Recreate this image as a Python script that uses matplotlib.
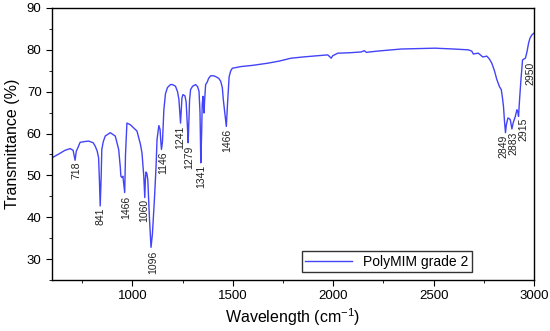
import numpy as np
import matplotlib
matplotlib.use('Agg')
import matplotlib.pyplot as plt

# ==============================
# data
# ==============================
wavenumber = [
    600, 630, 665, 690, 705, 715, 721, 727, 740, 765, 782, 805, 815, 825, 832,
    836, 840, 845, 848, 855, 865, 890, 915, 932, 940, 943, 948, 953, 962, 966,
    973, 990, 1023, 1040, 1048, 1057, 1062, 1065, 1068, 1072, 1077, 1085, 1093,
    1100, 1110, 1118, 1123, 1132, 1138, 1142, 1145, 1150, 1157, 1165, 1175,
    1190, 1200, 1215, 1225, 1232, 1238, 1240, 1243, 1247, 1252, 1262, 1268,
    1270, 1276, 1278, 1281, 1285, 1290, 1300, 1315, 1325, 1332, 1337, 1341,
    1345, 1348, 1352, 1355, 1357, 1360, 1365, 1373, 1380, 1390, 1405, 1415,
    1430, 1440, 1448, 1453, 1460, 1468, 1475, 1482, 1490, 1498, 1520, 1540,
    1600, 1673, 1730, 1790, 1850, 1900, 1950, 1973, 1982, 1990, 1998, 2023,
    2080, 2140, 2155, 2165, 2220, 2340, 2420, 2507, 2600, 2673, 2690, 2698,
    2708, 2723, 2738, 2745, 2755, 2765, 2778, 2790, 2803, 2815, 2828, 2837,
    2843, 2848, 2853, 2858, 2862, 2870, 2876, 2882, 2886, 2890, 2896, 2907,
    2915, 2920, 2923, 2928, 2935, 2943, 2950, 2957, 2965, 2973, 2980, 2990,
    3000,
]
transmittance = [
    54.2, 55.0, 56.0, 56.4, 56.0, 53.6, 55.8, 56.4, 57.9, 58.1, 58.2, 57.8,
    57.0, 55.8, 54.2, 49.0, 42.7, 50.0, 56.2, 58.0, 59.4, 60.2, 59.4, 56.2,
    52.0, 49.8, 49.5, 49.8, 45.9, 55.0, 62.5, 62.1, 60.6, 57.5, 55.4, 49.8,
    44.7, 49.0, 50.8, 50.5, 49.0, 40.0, 32.8, 36.0, 44.3, 52.0, 58.6, 61.9,
    61.0, 58.0, 56.2, 58.0, 65.7, 69.5, 71.0, 71.7, 71.7, 71.3, 70.0, 68.1,
    64.0, 62.5, 65.0, 68.5, 69.3, 69.0, 67.5, 65.7, 60.0, 57.8, 62.0, 68.0,
    70.5, 71.3, 71.7, 71.2, 70.1, 65.0, 53.0, 60.0, 67.0, 68.9, 66.0, 64.9,
    68.0, 71.7, 72.3, 73.2, 73.8, 73.8, 73.6, 73.2, 72.5, 71.0, 68.1, 65.0,
    61.7, 68.0, 73.6, 75.0, 75.6, 75.8, 76.0, 76.3, 76.8, 77.3, 78.0, 78.3,
    78.5, 78.7, 78.8, 78.4, 78.0, 78.6, 79.2, 79.3, 79.5, 79.8, 79.4, 79.7,
    80.2, 80.3, 80.4, 80.2, 80.0, 79.7, 79.0, 79.1, 79.2, 78.6, 78.3, 78.4,
    78.5, 77.8, 76.8, 75.0, 72.9, 71.2, 70.5, 68.5, 66.5, 63.0, 60.2, 62.0,
    63.7, 63.6, 63.3, 62.2, 61.1, 62.5, 64.1, 65.7, 65.0, 64.1, 68.0, 72.9,
    77.6, 77.8, 78.0, 79.5, 81.6, 82.8, 83.6, 84.0,
]

# peak labels (text as printed on the original figure)
peak_labels = ['718', '841', '1466', '1060', '1096', '1146', '1241', '1279',
               '1341', '1466', '2849', '2883', '2915', '2950']
peak_x = [723, 840, 970, 1057, 1103, 1153, 1240, 1285, 1343, 1470,
          2848, 2898, 2948, 2980]
peak_y = [53.4, 42.3, 45.1, 44.5, 32.0, 55.8, 61.9, 57.0, 52.6, 61.1,
          59.8, 60.5, 63.8, 77.1]

# ==============================
# style
# ==============================
plt.rcParams.update({
    "font.family": ["Liberation Sans", "DejaVu Sans"],
    "mathtext.fontset": "custom",
    "mathtext.rm": "Liberation Sans",
    "mathtext.it": "Liberation Sans:italic",
    "font.size": 9,
    "axes.linewidth": 1.0,
    "xtick.direction": "out",
    "ytick.direction": "out",
    "xtick.major.size": 4,
    "ytick.major.size": 4,
    "xtick.minor.size": 2.5,
    "ytick.minor.size": 2.5,
})

fig = plt.figure(figsize=(5.5, 3.31), dpi=100)
ax = fig.add_axes([52 / 550, 1 - 280 / 331, 482 / 550, 272 / 331])

ax.plot(wavenumber, transmittance, color='#4343f7', linewidth=1.0,
        label='PolyMIM grade 2')

for lab, px, py in zip(peak_labels, peak_x, peak_y):
    ax.text(px, py, lab, rotation=90, ha='center', va='top', fontsize=7.5,
            color='#222222')

ax.set_xlim(600, 3000)
ax.set_ylim(25, 90)
ax.set_xticks([1000, 1500, 2000, 2500, 3000])
ax.set_xticks(np.arange(750, 3000, 500), minor=True)
ax.set_yticks([30, 40, 50, 60, 70, 80, 90])
ax.set_yticks(np.arange(25, 90, 10), minor=True)
ax.tick_params(axis='both', which='major', labelsize=9.5)

ax.set_xlabel(r'Wavelength (cm$^{\mathrm{-1}}$)', fontsize=11.5, labelpad=3)
ax.set_ylabel('Transmittance (%)', fontsize=11.5, labelpad=5)

leg = ax.legend(loc='center', bbox_to_anchor=(0.695, 0.068), fontsize=10,
                fancybox=False, edgecolor='#333333', handlelength=3.4,
                borderpad=0.25, framealpha=1)
leg.get_frame().set_linewidth(1.0)

fig.savefig('out.png', dpi=100)
